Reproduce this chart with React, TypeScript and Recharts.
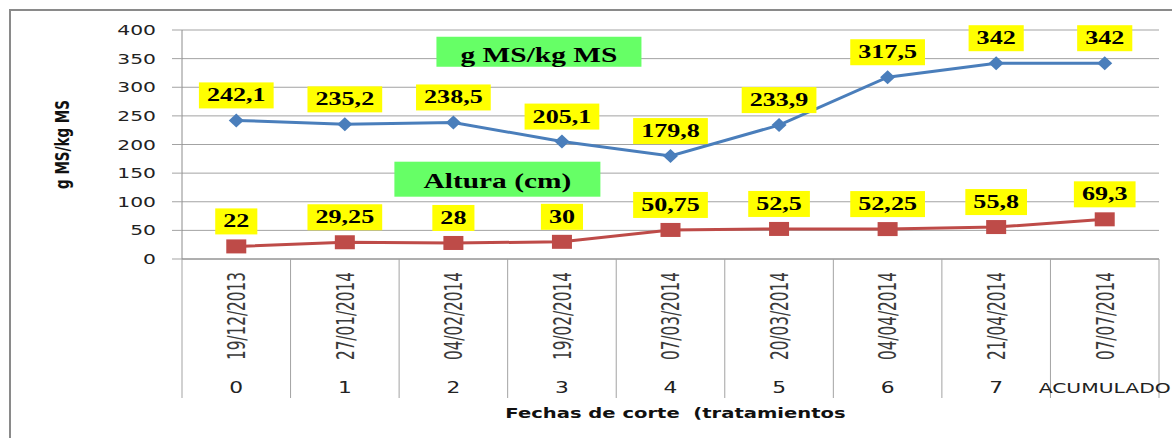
import React from 'react'
import { LineChart, Line, XAxis, YAxis, CartesianGrid, LabelList, ReferenceDot, Label } from 'recharts'

const fechas = ['19/12/2013', '27/01/2014', '04/02/2014', '19/02/2014', '07/03/2014', '20/03/2014', '04/04/2014', '21/04/2014', '07/07/2014']
const cortes = ['0', '1', '2', '3', '4', '5', '6', '7', 'ACUMULADO']
const msKg = [242.1, 235.2, 238.5, 205.1, 179.8, 233.9, 317.5, 342, 342]
const alturaCm = [22, 29.25, 28, 30, 50.75, 52.5, 52.25, 55.8, 69.3]
const yTicks = [0, 50, 100, 150, 200, 250, 300, 350, 400]

const data = fechas.map((f, i) => ({ fecha: f, corte: cortes[i], ms: msKg[i], altura: alturaCm[i] }))

const W = 1172
const H = 438
const Y_W = 182
const X_H = 179
const MARGIN = { top: 30, right: 13, bottom: 0, left: 0 }
const BAND = (W - MARGIN.right - Y_W) / fechas.length
const SX = 1.45 // the original picture is stretched sideways
const GRID = '#a3a3a3'
const BLUE = '#4a7ebb'
const RED = '#be4b48'

const fmt = (v: number) => String(v).replace('.', ',')

function CategoryTick(props: any) {
  const { x, y, payload } = props
  const i = payload.index
  const left = x - BAND / 2
  const group = cortes[i]
  return (
    <g>
      <line x1={left} y1={y} x2={left} y2={y + 139} stroke={GRID} />
      {i === fechas.length - 1 && <line x1={x + BAND / 2} y1={y} x2={x + BAND / 2} y2={y + 139} stroke={GRID} />}
      <text
        transform={`translate(${x},${y + 13}) scale(${SX},1) rotate(-90)`}
        textAnchor="end"
        dy="0.36em"
        fontFamily="DejaVu Sans Condensed"
        fontSize={17}
        fill="#3a3a3a"
      >
        {payload.value}
      </text>
      <text
        transform={`translate(${x},${y + 134}) scale(${SX},1)`}
        textAnchor="middle"
        fontFamily="DejaVu Sans"
        fontSize={group.length > 2 ? 14 : 15}
        fill="#222"
      >
        {group}
      </text>
    </g>
  )
}

function ValueTick(props: any) {
  const { x, y, payload } = props
  return (
    <text
      transform={`translate(${x},${y}) scale(${SX},1)`}
      textAnchor="end"
      dy="0.36em"
      fontFamily="DejaVu Sans"
      fontSize={14}
      fill="#222"
    >
      {payload.value}
    </text>
  )
}

function ValueLabel(props: any) {
  const { x, y, value } = props
  const t = fmt(value)
  const tw = [...t].reduce((s, c) => s + (c === ',' ? 0.25 : 0.5), 0) * 18 * SX
  const w = tw + 16
  const cy = y - 25
  return (
    <g>
      <rect x={x - w / 2} y={cy - 13} width={w} height={26} fill="#ffff00" />
      <text
        transform={`translate(${x},${cy + 6}) scale(${SX},1)`}
        textAnchor="middle"
        fontFamily="Liberation Serif"
        fontWeight="bold"
        fontSize={18}
        fill="#000"
      >
        {t}
      </text>
    </g>
  )
}

const Diamond = (props: any) => {
  const { cx, cy, index } = props
  return <polygon key={index} points={`${cx - 7.5},${cy} ${cx},${cy - 7} ${cx + 7.5},${cy} ${cx},${cy + 7}`} fill={BLUE} />
}

const Square = (props: any) => {
  const { cx, cy, index } = props
  return <rect key={index} x={cx - 10} y={cy - 7} width={20} height={14} fill={RED} />
}

const note = (text: string, dx: number, w: number, h: number, base: number) => (props: any) => {
  const { cx, cy } = props
  const x = cx + dx
  return (
    <g>
      <rect x={x - w / 2} y={cy - h / 2} width={w} height={h} fill="#66ff66" />
      <text
        transform={`translate(${x},${cy - h / 2 + base}) scale(1.4,1)`}
        textAnchor="middle"
        fontFamily="Liberation Serif"
        fontWeight="bold"
        fontSize={21}
        fill="#000"
      >
        {text}
      </text>
    </g>
  )
}

const YTitle = (props: any) => {
  const { viewBox } = props
  const cy = viewBox.y + viewBox.height / 2
  return (
    <text
      transform={`translate(62,${cy}) scale(${SX},1) rotate(-90)`}
      textAnchor="middle"
      dy="0.36em"
      fontFamily="DejaVu Sans"
      fontWeight="bold"
      fontSize={13.5}
      fill="#111"
    >
      g MS/kg MS
    </text>
  )
}

const XTitle = (props: any) => {
  const { viewBox } = props
  return (
    <text
      transform={`translate(${viewBox.x + viewBox.width / 2 + 5},${viewBox.y + 159}) scale(${SX},1)`}
      textAnchor="middle"
      fontFamily="DejaVu Sans"
      fontWeight="bold"
      fontSize={13.5}
      fill="#111"
      style={{ whiteSpace: 'pre' }}
    >
      {'Fechas de corte  (tratamientos'}
    </text>
  )
}

export default function App() {
  return (
    <div style={{ position: 'absolute', left: 0, top: 0, width: W, height: H, overflow: 'hidden', background: '#fff' }}>
      <div
        style={{
          position: 'absolute', left: 9, top: 9, width: W, height: H,
          borderLeft: '2px solid #8a8a8a', borderTop: '2px solid #8a8a8a',
        }}
      />
      <div style={{ position: 'absolute', left: 0, top: 0 }}>
        <LineChart width={W} height={H} data={data} margin={MARGIN}>
          <CartesianGrid horizontal vertical={false} stroke={GRID} />
          <XAxis
            dataKey="fecha"
            scale="band"
            interval={0}
            height={X_H}
            tickSize={0}
            tickMargin={0}
            tickLine={false}
            axisLine={{ stroke: '#8c8c8c' }}
            tick={<CategoryTick />}
          >
            <Label content={<XTitle />} />
          </XAxis>
          <YAxis
            width={Y_W}
            domain={[0, 400]}
            ticks={yTicks}
            tickSize={10}
            tickMargin={16}
            tickLine={{ stroke: GRID }}
            axisLine={{ stroke: '#8c8c8c' }}
            tick={<ValueTick />}
          >
            <Label content={<YTitle />} />
          </YAxis>
          <ReferenceDot x={fechas[3]} y={362} ifOverflow="visible" shape={note('g MS/kg MS', -23, 205, 30, 25)} />
          <ReferenceDot x={fechas[2]} y={139.4} ifOverflow="visible" shape={note('Altura (cm)', 44, 206, 35, 26)} />
          <Line dataKey="ms" stroke={BLUE} strokeWidth={3} dot={Diamond} activeDot={false} isAnimationActive={false}>
            <LabelList dataKey="ms" content={<ValueLabel />} />
          </Line>
          <Line dataKey="altura" stroke={RED} strokeWidth={3} dot={Square} activeDot={false} isAnimationActive={false}>
            <LabelList dataKey="altura" content={<ValueLabel />} />
          </Line>
        </LineChart>
      </div>
    </div>
  )
}
